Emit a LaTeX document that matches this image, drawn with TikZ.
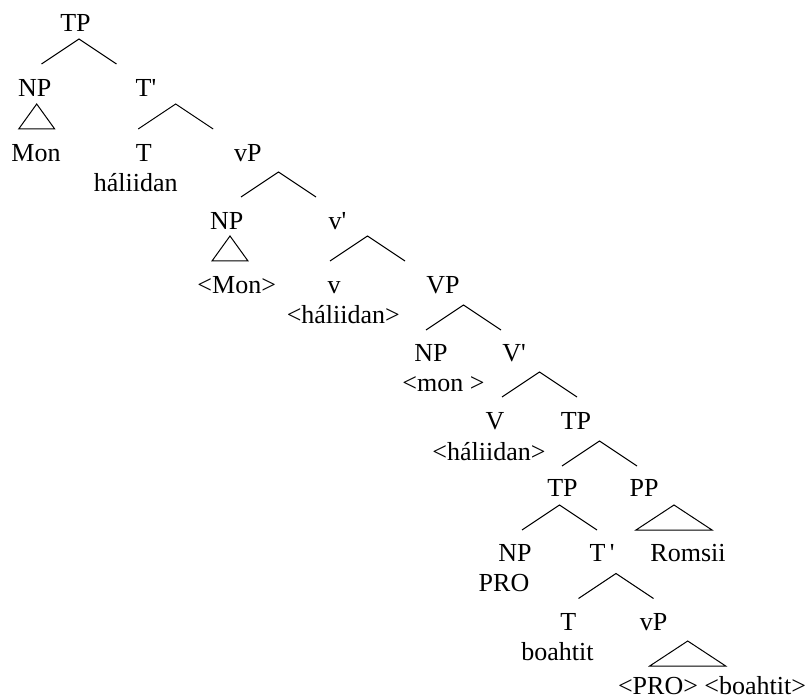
\documentclass[tikz,border=0pt]{standalone}
\usepackage{fontspec}
\setmainfont{Liberation Serif}
\newcommand{\pr}{\textquotesingle}

\begin{document}
\begin{tikzpicture}[x=1pt, y=-1pt, line width=1pt,
	lbl/.style={anchor=base, inner sep=0pt, font=\fontsize{26}{30}\selectfont}]
	\useasboundingbox (0, 0) rectangle (810, 700);
	% labels
	\node[lbl] (tp) at (75.5, 32) {TP};
	\node[lbl] (np) at (34.7, 97) {NP};
	\node[lbl] (tbar) at (146, 97) {T\pr};
	\node[lbl] (mon) at (36, 161.5) {Mon};
	\node[lbl] (t) at (143.8, 161.5) {T};
	\node[lbl] (tw) at (135.8, 191.5) {háliidan};
	\node[lbl] (vp) at (247.8, 161.5) {vP};
	\node[lbl] (npb) at (226.7, 230) {NP};
	\node[lbl] (vbar) at (337.5, 230) {v\pr};
	\node[lbl] (monb) at (236.7, 293) {<Mon>};
	\node[lbl] (v) at (334, 293) {v};
	\node[lbl] (vw) at (343.3, 323) {<háliidan>};
	\node[lbl] (bigvp) at (443, 293) {VP};
	\node[lbl] (npc) at (431, 361) {NP};
	\node[lbl] (monc) at (443.5, 391) {<mon >};
	\node[lbl] (bigvbar) at (514, 361) {V\pr};
	\node[lbl] (bigv) at (495, 429) {V};
	\node[lbl] (bigvw) at (489, 460) {<háliidan>};
	\node[lbl] (tpb) at (576, 429) {TP};
	\node[lbl] (tpc) at (562.5, 496.7) {TP};
	\node[lbl] (pp) at (644, 496.7) {PP};
	\node[lbl] (npd) at (515, 561.7) {NP};
	\node[lbl] (pro) at (504, 591.7) {PRO};
	\node[lbl] (tbarb) at (602, 561.7) {T\,\pr};
	\node[lbl] (roms) at (688, 561.7) {Romsii};
	\node[lbl] (tb) at (568.3, 630) {T};
	\node[lbl] (tbw) at (557.5, 660) {boahtit};
	\node[lbl] (vpb) at (653.7, 630) {vP};
	\node[lbl] (vpbw) at (712, 694) {<PRO> <boahtit>};
	% branch tops
	\coordinate (tp-br) at (79, 39);
	\coordinate (tbar-br) at (175.7, 104);
	\coordinate (vp-br) at (278.5, 172);
	\coordinate (vbar-br) at (367.5, 236);
	\coordinate (bigvp-br) at (463.5, 305);
	\coordinate (bigvbar-br) at (539.5, 372);
	\coordinate (tpb-br) at (599.5, 441);
	\coordinate (tpc-br) at (559.5, 505);
	\coordinate (tbarb-br) at (616, 573.5);
	\foreach \b in {tp-br, tbar-br, vp-br, vbar-br, bigvp-br, bigvbar-br, tpb-br, tpc-br, tbarb-br}
		\draw (\b) +(-37.5, 25) -- (\b) -- +(37.5, 25);
	% triangles
	\coordinate (np-tri) at (36.7, 104);
	\coordinate (npb-tri) at (230, 236);
	\coordinate (pp-tri) at (674, 505);
	\coordinate (vpb-tri) at (687.7, 641);
	\draw (np-tri) -- +(-18, 25) -- +(18, 25) -- cycle;
	\draw (npb-tri) -- +(-18, 25) -- +(18, 25) -- cycle;
	\draw (pp-tri) -- +(-38, 25) -- +(38, 25) -- cycle;
	\draw (vpb-tri) -- +(-38, 25) -- +(38, 25) -- cycle;
\end{tikzpicture}
\end{document}
